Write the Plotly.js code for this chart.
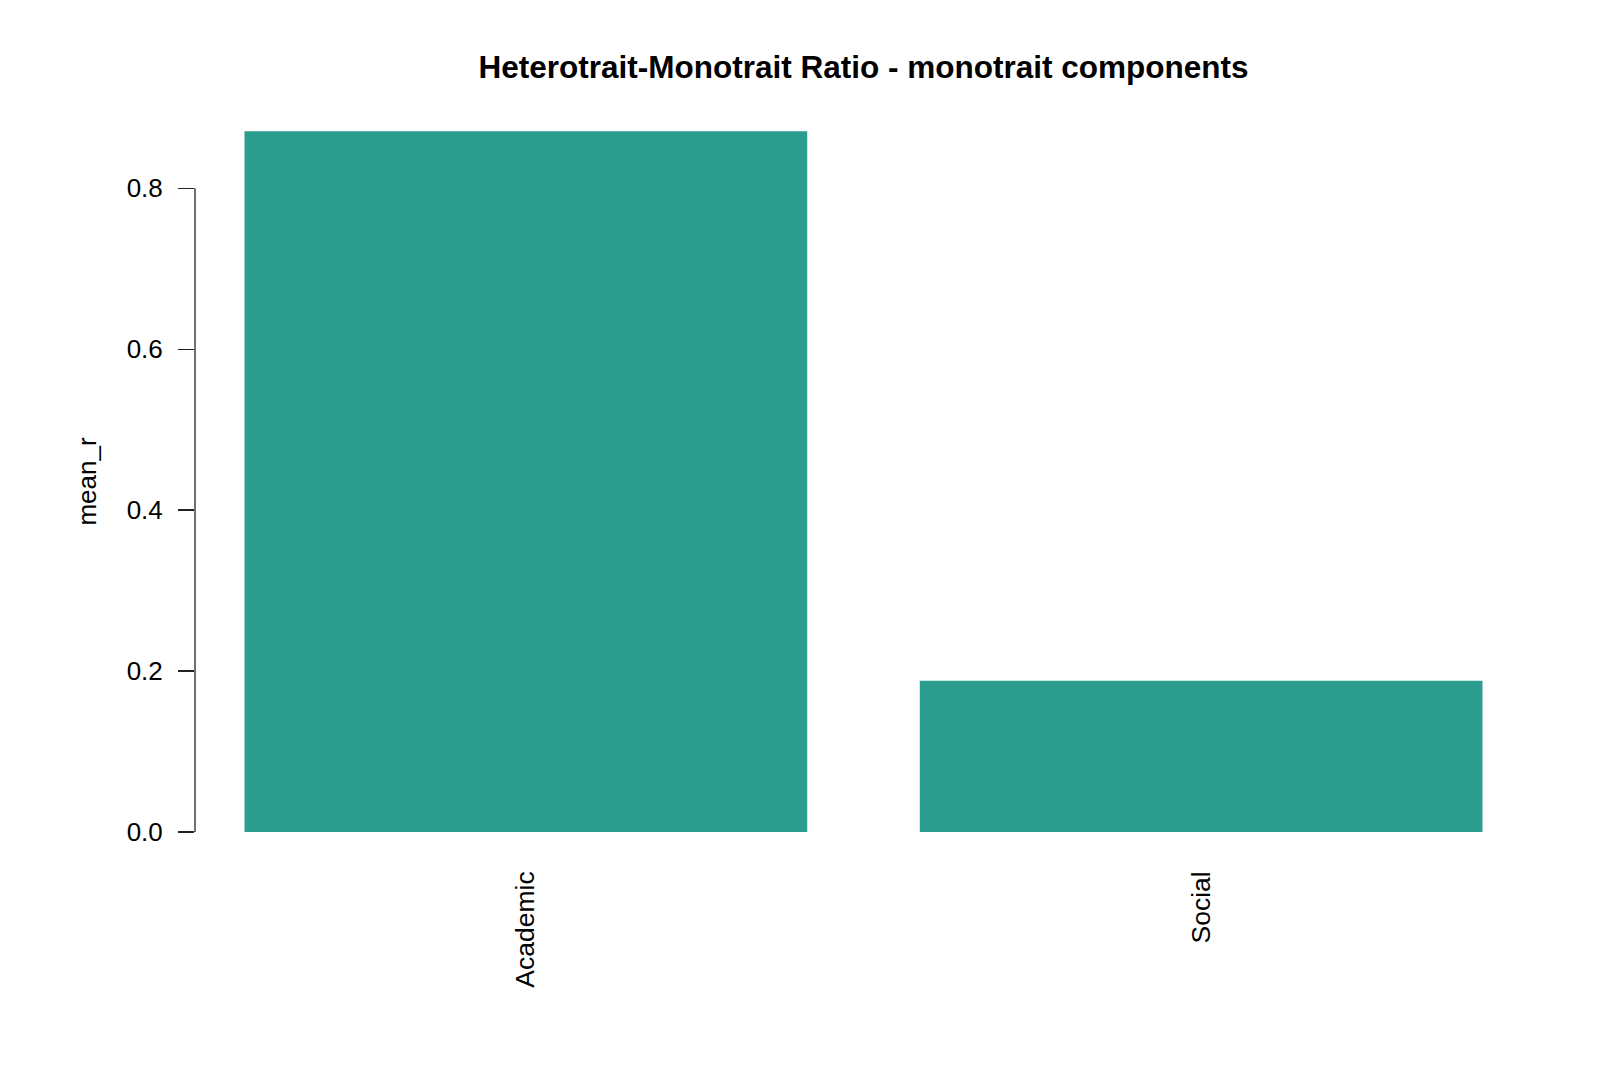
<!DOCTYPE html>
<html>
<head>
<meta charset="utf-8">
<script src="https://cdn.plot.ly/plotly-3.0.1.min.js"></script>
<style>
  html, body { margin: 0; padding: 0; background: #fff; }
  #chart { width: 1600px; height: 1067px; }
</style>
</head>
<body>
<div id="chart"></div>
<script>
var components = ["Academic", "Social"];
var meanR = [0.871, 0.188];
var yTicks = [0.0, 0.2, 0.4, 0.6, 0.8];
var yTickText = ["0.0", "0.2", "0.4", "0.6", "0.8"];

var barColor = "#2A9D8F";
var font = "Liberation Sans, Arial, sans-serif";

function makeChart(){
    var trace1 = {
        x: components,
        y: meanR,
        type: 'bar',
        width: 1/1.2,           // R barplot: width 1, space 0.2
        marker: {color: barColor, line: {width: 0}},
        hoverinfo: 'x+y'
    };

    var layout = {
        width: 1600,
        height: 1067,
        paper_bgcolor: '#ffffff',
        plot_bgcolor: '#ffffff',
        showlegend: false,
        margin: {l: 195, r: 68, t: 103, b: 207},
        font: {family: font, color: '#000'},
        title: {
            text: "<b>Heterotrait-Monotrait Ratio - monotrait components</b>",
            font: {family: font, size: 31.5, color: '#000'},
            xref: 'paper',
            x: 0.5,
            xanchor: 'center',
            yref: 'container',
            y: 1 - 67/1067,
            yanchor: 'middle'
        },
        xaxis: {
            type: 'category',
            range: [-0.49, 1.49],
            showgrid: false,
            zeroline: false,
            showline: false,
            ticks: '',
            tickangle: -90,
            tickfont: {family: font, size: 26.5, color: '#000'},
            ticklabelstandoff: 5,
            fixedrange: true
        },
        yaxis: {
            range: [-0.0348, 0.906],
            tickvals: yTicks,
            ticktext: yTickText,
            showgrid: false,
            zeroline: false,
            showline: false,
            ticks: 'outside',
            ticklen: 16,
            tickwidth: 1.3,
            tickcolor: '#222',
            tickfont: {family: font, size: 26, color: '#000'},
            ticklabelstandoff: 10,
            title: {
                text: "mean_r",
                font: {family: font, size: 26, color: '#000'},
                standoff: 22
            },
            fixedrange: true
        },
        shapes: [{
            // R draws the axis line only between the first and last tick
            type: 'line',
            xref: 'paper', yref: 'y',
            x0: 0, x1: 0,
            y0: yTicks[0], y1: yTicks[yTicks.length - 1],
            line: {color: '#222', width: 1.3}
        }]
    };

    Plotly.newPlot('chart', [trace1], layout, {displayModeBar: false, staticPlot: true});
}

makeChart();
</script>
</body>
</html>
